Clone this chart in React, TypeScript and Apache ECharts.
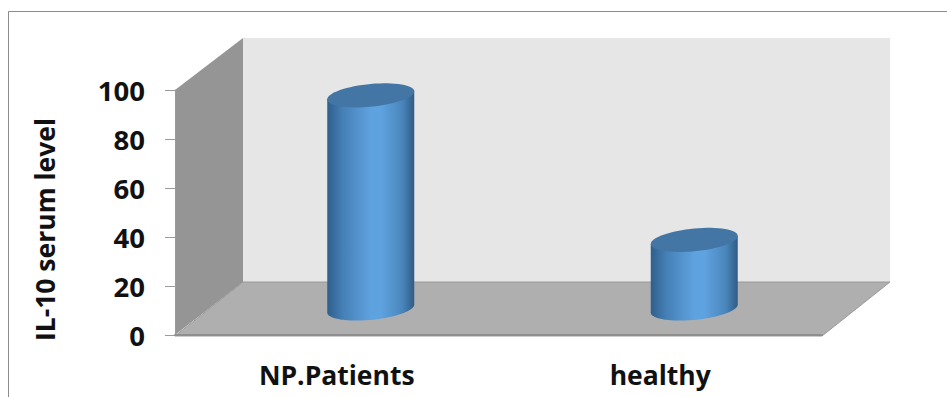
import React, { useEffect, useRef } from "react";
import * as echarts from "echarts";

// IL-10 serum level per group
const categories = ["NP.Patients", "healthy"];
const values = [87, 28];
const yTicks = { min: 0, max: 100, interval: 20 };
const yTitle = "IL-10 serum level";

// Front plane of the pseudo-3D box and the depth offset to its back wall
const LEFT = 175;
const RIGHT = 822;
const TOP = 90;
const BOTTOM = 335;
const DX = 68;
const DY = 53;

const FONT = "Open Sans";
const INK = "#111111";

// Outline of a sheared ellipse, used for cylinder caps and the rounded base
function capPoints(cx: number, cy: number, a: number, b: number, s: number, from = 0, to = Math.PI * 2) {
  const pts: number[][] = [];
  const n = 64;
  for (let i = 0; i <= n; i++) {
    const t = from + ((to - from) * i) / n;
    pts.push([cx + a * Math.cos(t), cy + b * Math.sin(t) - s * Math.cos(t)]);
  }
  return pts;
}

function renderCylinder(_params: any, api: any) {
  const top = api.coord([api.value(0), api.value(1)]);
  const base = api.coord([api.value(0), 0]);
  const cx = top[0] + DX / 2;
  const topY = top[1] - DY / 2;
  const baseY = base[1] - DY / 2;
  const a = 43.5;
  const b = 11.4;
  const s = 4;
  const lower = capPoints(cx, baseY, a, b, s, 0, Math.PI);
  const body = [[cx - a, topY + s], [cx + a, topY - s], ...lower];
  return {
    type: "group",
    children: [
      {
        type: "polygon",
        shape: { points: body },
        style: {
          fill: new echarts.graphic.LinearGradient(0, 0, 1, 0, [
            { offset: 0, color: "#2f5f8c" },
            { offset: 0.18, color: "#4580b6" },
            { offset: 0.5, color: "#5fa2e0" },
            { offset: 0.62, color: "#5fa2e0" },
            { offset: 0.86, color: "#4a86bc" },
            { offset: 1, color: "#2f5c85" },
          ]),
        },
      },
      {
        type: "polygon",
        shape: { points: capPoints(cx, topY, a, b, s) },
        style: { fill: "#4476a5" },
      },
    ],
  };
}

export default function App() {
  const ref = useRef<HTMLDivElement>(null);

  useEffect(() => {
    const chart = echarts.init(ref.current!, null, { renderer: "svg" });
    chart.setOption({
      animation: false,
      backgroundColor: "#ffffff",
      grid: { left: LEFT, top: TOP, width: RIGHT - LEFT, height: BOTTOM - TOP },
      graphic: [
        // Chart-area frame: top and left edges only are visible
        { type: "line", silent: true, shape: { x1: 8.5, y1: 11.5, x2: 947, y2: 11.5 }, style: { stroke: "#8c8c8c", lineWidth: 1 } },
        { type: "line", silent: true, shape: { x1: 8.5, y1: 11.5, x2: 8.5, y2: 397 }, style: { stroke: "#8c8c8c", lineWidth: 1 } },
        // Back wall
        {
          type: "polygon", silent: true,
          shape: { points: [[LEFT + DX, TOP - DY + 1], [RIGHT + DX, TOP - DY + 1], [RIGHT + DX, BOTTOM - DY], [LEFT + DX, BOTTOM - DY]] },
          style: { fill: "#e6e6e6" },
        },
        // Side wall
        {
          type: "polygon", silent: true,
          shape: { points: [[LEFT, TOP], [LEFT + DX, TOP - DY + 1], [LEFT + DX, BOTTOM - DY], [LEFT, BOTTOM]] },
          style: { fill: "#959595" },
        },
        // Floor
        {
          type: "polygon", silent: true,
          shape: { points: [[LEFT, BOTTOM + 1], [RIGHT, BOTTOM + 1], [RIGHT + DX, BOTTOM - DY], [LEFT + DX, BOTTOM - DY]] },
          style: { fill: "#afafaf", stroke: "#9a9a9a", lineWidth: 1 },
        },
      ],
      xAxis: {
        type: "category",
        data: categories,
        axisLine: { show: true, lineStyle: { color: "#8f8f8f", width: 2 } },
        axisTick: { show: false },
        splitLine: { show: false },
        axisLabel: { color: INK, fontFamily: FONT, fontWeight: "bold", fontSize: 26.5, margin: 26 },
      },
      yAxis: {
        type: "value",
        min: yTicks.min,
        max: yTicks.max,
        interval: yTicks.interval,
        name: yTitle,
        nameLocation: "middle",
        nameRotate: 90,
        nameGap: 117,
        nameTextStyle: { color: INK, fontFamily: FONT, fontWeight: "bold", fontSize: 26.5, padding: [0, 34, 0, 0] },
        axisLine: { show: true, lineStyle: { color: "#9a9a9a", width: 1 } },
        axisTick: { show: true, length: 10, lineStyle: { color: "#9a9a9a", width: 1 } },
        splitLine: { show: false },
        axisLabel: { color: INK, fontFamily: FONT, fontWeight: "bold", fontSize: 27.5, margin: 30, padding: [2, 0, 0, 0] },
      },
      series: [
        {
          type: "custom",
          clip: false,
          encode: { x: 0, y: 1 },
          data: values.map((v, i) => [i, v]),
          renderItem: renderCylinder,
        },
      ],
    });
    return () => chart.dispose();
  }, []);

  return <div ref={ref} style={{ position: "absolute", left: 0, top: 0, width: 947, height: 397 }} />;
}
